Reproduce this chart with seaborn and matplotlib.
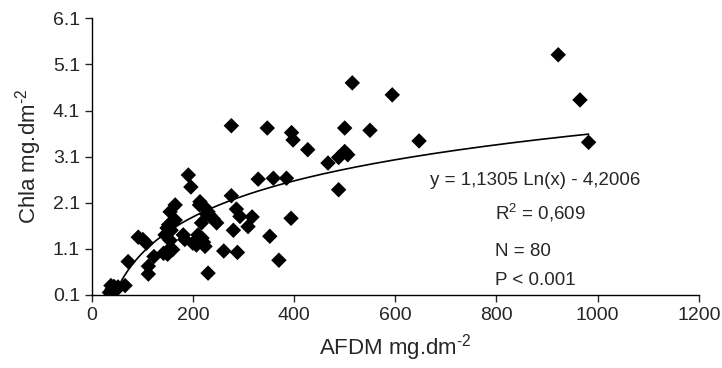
import numpy as np
import pandas as pd
import matplotlib
matplotlib.use("Agg")
import matplotlib.pyplot as plt
import seaborn as sns

# AFDM vs Chla values
afdm = [35, 40, 44, 48, 52, 66, 72, 92, 101, 108,
        112, 112, 123, 142, 148, 153, 160, 149, 152, 157,
        160, 155, 155, 165, 181, 184, 191, 196, 200, 207,
        214, 218, 221, 224, 224, 230, 234, 217, 247, 230,
        261, 276, 276, 280, 286, 293, 288, 309, 317, 329,
        347, 352, 359, 370, 385, 394, 395, 398, 427, 467,
        488, 488, 500, 500, 506, 515, 550, 594, 647, 922,
        965, 982, 145, 165, 210, 213, 240, 150, 38, 227]
chla = [0.15, 0.22, 0.28, 0.20, 0.27, 0.30, 0.82, 1.35, 1.30, 1.22,
        0.72, 0.55, 0.93, 1.00, 1.03, 1.06, 1.08, 1.55, 1.62, 1.50,
        1.65, 1.28, 1.90, 2.05, 1.40, 1.30, 2.70, 2.44, 1.22, 1.18,
        2.12, 1.33, 1.24, 1.15, 1.99, 1.90, 1.82, 1.66, 1.66, 0.57,
        1.05, 3.77, 2.25, 1.50, 1.96, 1.80, 1.02, 1.58, 1.79, 2.61,
        3.72, 1.37, 2.63, 0.85, 2.63, 1.76, 3.62, 3.46, 3.25, 2.96,
        3.08, 2.38, 3.21, 3.72, 3.14, 4.70, 3.67, 4.44, 3.44, 5.31,
        4.33, 3.41, 1.40, 1.72, 1.40, 2.05, 1.75, 0.98, 0.30, 1.85]

# log trendline coefficients printed on the chart
slope = 1.1305
intercept = -4.2006

x_ticks = [0, 200, 400, 600, 800, 1000, 1200]
y_ticks = [0.1, 1.1, 2.1, 3.1, 4.1, 5.1, 6.1]

df = pd.DataFrame({"afdm": afdm, "chla": chla})

sns.set_style("ticks")
plt.rcParams["font.family"] = ["Liberation Sans", "DejaVu Sans"]
plt.rcParams["mathtext.fontset"] = "custom"
plt.rcParams["mathtext.rm"] = "Liberation Sans"
plt.rcParams["mathtext.default"] = "regular"

fig = plt.figure(figsize=(7.22, 3.68), dpi=100)
ax = fig.add_axes([0.127, 0.199, 0.841, 0.751])

sns.scatterplot(data=df, x="afdm", y="chla", marker="D", color="black",
                edgecolor="none", s=62, ax=ax, zorder=3)

# trendline over the data range
xs = np.linspace(min(afdm), max(afdm), 400)
trend = pd.DataFrame({"x": xs, "y": slope * np.log(xs) + intercept})
sns.lineplot(data=trend, x="x", y="y", color="black", linewidth=1.2, ax=ax, zorder=2)

ax.set_xlim(0, 1200)
ax.set_ylim(0.1, 6.1)
ax.set_xticks(x_ticks)
ax.set_yticks(y_ticks)
ax.set_xticklabels([str(t) for t in x_ticks])
ax.set_yticklabels([f"{t:.1f}" for t in y_ticks])
ax.tick_params(axis="both", labelsize=14, length=5, width=1, direction="out")
ax.set_xlabel(r"AFDM mg.dm$^{\text{-2}}$", fontsize=16, labelpad=6)
ax.set_ylabel(r"Chla mg.dm$^{\text{-2}}$", fontsize=16, labelpad=6)
sns.despine(ax=ax)
for sp in ["left", "bottom"]:
    ax.spines[sp].set_linewidth(1)
    ax.spines[sp].set_color("black")

# equation and stats
fs = 13.5
ax.text(0.557, 0.415, "y = 1,1305 Ln(x) - 4,2006", transform=ax.transAxes,
        fontsize=fs, va="center")
ax.text(0.664, 0.296, r"R$^2$ = 0,609", transform=ax.transAxes,
        fontsize=fs, va="center")
ax.text(0.664, 0.155, "N = 80", transform=ax.transAxes,
        fontsize=fs, va="center")
ax.text(0.664, 0.05, "P < 0.001", transform=ax.transAxes,
        fontsize=fs, va="center")

fig.savefig("out.png", dpi=100)
